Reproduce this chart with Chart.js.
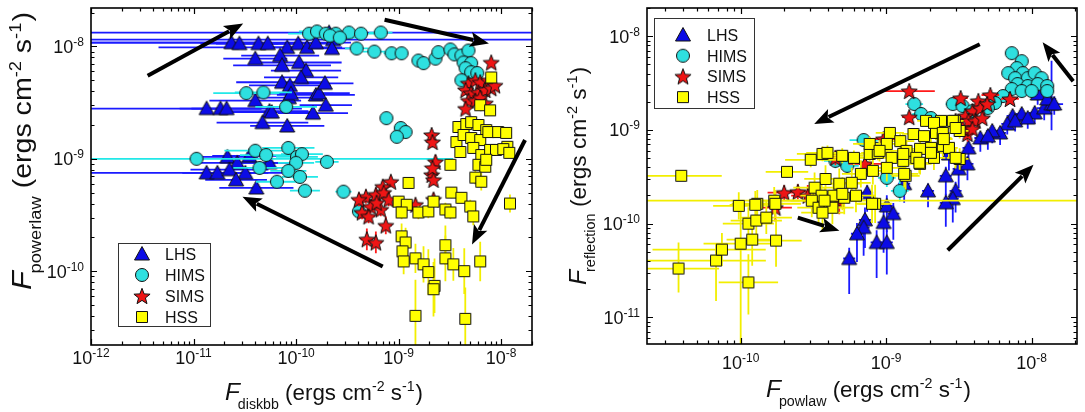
<!DOCTYPE html>
<html>
<head>
<meta charset="utf-8">
<script src="https://cdn.jsdelivr.net/npm/chart.js@4.4.1/dist/chart.umd.min.js"></script>
<style>
  html, body { margin: 0; padding: 0; background: #fff; }
  #wrap { position: relative; width: 1085px; height: 412px; overflow: hidden; }
  .panel { position: absolute; top: 0; width: 540px; height: 412px; }
</style>
</head>
<body>
<div id="wrap">
  <div class="panel" style="left:0"><canvas id="left"></canvas></div>
  <div class="panel" style="left:545px"><canvas id="right"></canvas></div>
</div>
<script>
// series names (legend order) and colours
const states = ["LHS", "HIMS", "SIMS", "HSS"];

// tick label exponents (10^n)
const p1XDecades = [-12, -11, -10, -9, -8];
const p1YDecades = [-10, -9, -8];
const p2XDecades = [-10, -9, -8];
const p2YDecades = [-11, -10, -9, -8];

// axis titles: [symbol, subscript]
const p1XTitle = ["F", "diskbb"];
const p1YTitle = ["F", "powerlaw"];
const p2XTitle = ["F", "powlaw"];
const p2YTitle = ["F", "reflection"];
const unitText = ["(ergs cm", "-2", " s", "-1", ")"];

// ---- left panel: F_diskbb vs F_powerlaw ----
// rows: [x, y, xErrFactor, yErrFactor]  (factor or [down, up])
const p1LHS = [
  [2.34e-11, 1.08e-8, [300, 2], 1.1], [2.8e-11, 1.06e-8, 2.4, 1.1], [4.3e-11, 1.06e-8, 2.6, 1.1],
  [5.3e-11, 1.06e-8, 2.2, 1.12], [8.2e-11, 9.8e-9, [18, 1.5], 1.1], [1.05e-10, 1.06e-8, 2.0, 1.1],
  [1.28e-10, 9.8e-9, 2.2, 1.1], [1.56e-10, 1.08e-8, [500, 2.2], 1.1], [2.1e-10, 1.33e-8, 1e4, 1.08],
  [2.3e-10, 1.15e-8, 1e4, 1.08], [4.0e-11, 7.8e-9, 2.05, 1.1], [7.0e-11, 8.3e-9, 2.4, 1.1],
  [7.3e-11, 6.8e-9, 3.0, 1.1], [1.07e-10, 7.2e-9, 2.6, 1.1], [1.25e-10, 6.1e-9, 2.2, 1.1],
  [1.12e-10, 5.3e-9, 2.3, 1.1], [7.3e-11, 4.8e-9, 2.8, 1.1], [8.7e-11, 4.5e-9, 2.5, 1.1],
  [8.5e-11, 3.5e-9, 2.2, 1.12], [8.9e-11, 3.8e-9, 2.6, 1.1], [1.56e-10, 3.7e-9, 2.4, 1.1],
  [4.0e-11, 3.3e-9, 2.8, 1.12], [1.34e-11, 2.8e-9, [200, 8.5], 1.1], [1.83e-11, 2.8e-9, 2.5, 1.1],
  [2.1e-11, 2.8e-9, 2.2, 1.1], [5.5e-11, 2.66e-9, 2.4, 1.1], [5.8e-11, 2.6e-9, 2.6, 1.1],
  [4.7e-11, 2.1e-9, 2.8, 1.12], [8.2e-11, 1.96e-9, 2.3, 1.12], [1.46e-10, 2.55e-9, 2.2, 1.1],
  [1.67e-10, 3.84e-9, 2.0, 1.1], [1.95e-10, 3.0e-9, 1.8, 1.1], [1.91e-10, 4.7e-9, 1.9, 1.1],
  [2.24e-10, 9.6e-9, 1.8, 1.1], [2.14e-11, 1.04e-9, 2.0, 1.1], [3.5e-11, 1.06e-9, 2.3, 1.1],
  [2.67e-11, 9.2e-10, 2.5, 1.1], [1.34e-11, 7.5e-10, [200, 4], 1.1], [1.71e-11, 7.5e-10, 2.2, 1.1],
  [2.24e-11, 8.0e-10, 2.4, 1.1], [3.2e-11, 7.5e-10, 2.6, 1.1], [2.6e-11, 6.5e-10, 2.0, 1.1],
  [4.1e-11, 5.5e-10, 2.3, 1.12], [5.5e-11, 9.2e-10, 2.0, 1.1]
];
const p1HIMS = [
  [1.34e-10, 1.30e-8, 1.6, 1.08], [1.6e-10, 1.36e-8, 1.5, 1.08], [1.95e-10, 1.30e-8, 1.5, 1.08],
  [2.44e-10, 1.30e-8, 1.6, 1.08], [3.27e-10, 1.33e-8, 1.5, 1.08], [4.3e-10, 1.30e-8, 1.4, 1.08],
  [6.7e-10, 1.33e-8, 1.3, 1.06], [2.14e-10, 1.25e-8, 1.5, 1.08], [2.67e-10, 1.2e-8, 1.6, 1.08],
  [3.9e-10, 9.6e-9, 1.3, 1.06], [5.8e-10, 9.0e-9, 1.3, 1.06], [8.55e-10, 8.7e-9, 1.2, 1.06],
  [1.07e-9, 8.7e-9, 1.15, 1.06], [1.56e-9, 7.5e-9, 1.12, 1.05], [1.75e-9, 7.1e-9, 1.12, 1.05],
  [2.29e-9, 7.8e-9, 1.1, 1.05], [2.44e-9, 8.9e-9, 1.1, 1.05], [3.2e-9, 9.4e-9, 1.1, 1.05],
  [3.5e-9, 8.5e-9, 1.1, 1.05], [4.1e-9, 8.3e-9, 1.1, 1.05], [4.8e-9, 9.2e-9, 1.1, 1.05],
  [4.3e-9, 7.2e-9, 1.1, 1.05], [5.1e-9, 7.1e-9, 1.1, 1.05], [4.5e-9, 6.4e-9, 1.1, 1.05],
  [5.1e-9, 5.9e-9, 1.1, 1.05], [5.85e-9, 5.8e-9, 1.1, 1.05], [4.1e-9, 5.0e-9, 1.1, 1.05],
  [7.6e-10, 2.3e-9, 1.1, 1.05], [1.05e-9, 1.88e-9, 1.1, 1.05], [1.17e-9, 1.73e-9, 1.1, 1.05],
  [9.6e-10, 1.57e-9, 1.1, 1.05], [2.0e-10, 9.4e-10, 1.3, 1.08], [2.9e-10, 5.1e-10, 1.2, 1.1],
  [4.1e-10, 3.4e-10, 1.15, 1.1], [3.27e-11, 3.84e-9, 2.1, 1.08], [4.8e-11, 3.9e-9, 1.9, 1.08],
  [8.0e-11, 2.9e-9, 2.0, 1.1], [1.07e-11, 1.0e-9, [1000, 318], 1.08], [4.0e-11, 1.18e-9, 2.0, 1.08],
  [5.1e-11, 1.08e-9, 1.8, 1.08], [8.4e-11, 1.25e-9, 1.8, 1.08], [1.02e-10, 1.04e-9, 1.6, 1.15],
  [1.14e-10, 1.1e-9, 1.6, 1.15], [1.0e-10, 9.2e-10, 1.5, 1.1], [8.4e-11, 7.8e-10, 1.5, 1.1],
  [4.4e-11, 8.3e-10, 1.8, 1.08], [6.5e-11, 6.25e-10, 1.6, 1.08], [1.09e-10, 6.9e-10, 1.5, 1.12],
  [1.22e-10, 5.2e-10, 1.4, 1.12]
];
const p1SIMS = [
  [8.0e-9, 7.2e-9, 1.12, 1.1], [4.8e-9, 4.7e-9, 1.12, 1.1], [5.6e-9, 5.0e-9, 1.12, 1.1],
  [6.25e-9, 4.8e-9, 1.12, 1.1], [7.5e-9, 5.0e-9, 1.12, 1.1], [4.5e-9, 4.1e-9, 1.12, 1.1],
  [5.1e-9, 3.84e-9, 1.12, 1.1], [6.0e-9, 3.9e-9, 1.12, 1.1], [7.0e-9, 4.1e-9, 1.12, 1.1],
  [8.0e-9, 4.25e-9, 1.12, 1.1], [4.8e-9, 3.3e-9, 1.12, 1.1], [5.6e-9, 3.3e-9, 1.12, 1.1],
  [7.0e-9, 3.13e-9, 1.12, 1.1], [4.5e-9, 2.8e-9, 1.12, 1.1], [6.25e-9, 3.5e-9, 1.12, 1.1],
  [8.7e-9, 4.5e-9, 1.12, 1.1], [2.1e-9, 1.63e-9, 1.1, 1.12], [2.14e-9, 1.41e-9, 1.1, 1.12],
  [2.29e-9, 9.4e-10, 1.1, 1.15], [2.1e-9, 7.2e-10, 1.1, 1.12], [2.19e-9, 6.5e-10, 1.1, 1.12],
  [2.14e-9, 8.3e-10, 1.1, 1.12], [8.4e-10, 6.25e-10, 1.15, 1.12], [7.0e-10, 5.65e-10, 1.15, 1.12],
  [4.8e-10, 4.6e-10, 1.15, 1.15], [6.0e-10, 4.8e-10, 1.15, 1.15], [7.15e-10, 5.0e-10, 1.15, 1.15],
  [8.0e-10, 4.34e-10, 1.15, 1.15], [5.35e-10, 3.76e-10, 1.15, 1.15], [6.7e-10, 3.54e-10, 1.15, 1.15],
  [4.4e-10, 3.33e-10, 1.15, 1.15], [5.1e-10, 3.07e-10, 1.15, 1.15], [7.5e-10, 2.55e-10, 1.15, 1.2],
  [4.9e-10, 1.92e-10, 1.15, 1.25], [6.0e-10, 1.8e-10, 1.15, 1.25], [1.46e-9, 3.9e-10, 1.12, 1.12],
  [2.19e-9, 4.34e-10, 1.1, 1.15], [4.1e-10, 4.34e-10, 1.15, 1.15], [6.1e-10, 4.07e-10, 1.15, 1.15]
];
const p1HSS = [
  [8.0e-9, 5.3e-9, 1.1, 1.1], [6.25e-9, 3.0e-9, 1.1, 1.1], [7.8e-9, 2.7e-9, 1.1, 1.1],
  [3.83e-9, 1.92e-9, 1.08, 1.1], [4.57e-9, 2.04e-9, 1.08, 1.1], [5.1e-9, 2.12e-9, 1.08, 1.1],
  [6.0e-9, 2.0e-9, 1.08, 1.1], [7.15e-9, 1.8e-9, 1.08, 1.1], [3.66e-9, 1.41e-9, 1.08, 1.1],
  [4.3e-9, 1.63e-9, 1.08, 1.1], [5.1e-9, 1.53e-9, 1.08, 1.1], [6.25e-9, 1.47e-9, 1.08, 1.1],
  [7.5e-9, 1.73e-9, 1.08, 1.1], [9.35e-9, 1.73e-9, 1.08, 1.1], [1.12e-8, 1.7e-9, 1.08, 1.1],
  [1.15e-8, 1.28e-9, 1.08, 1.1], [4.0e-9, 1.15e-9, 1.08, 1.1], [5.35e-9, 1.25e-9, 1.08, 1.1],
  [6.4e-9, 1.08e-9, 1.08, 1.1], [7.8e-9, 1.2e-9, 1.08, 1.1], [8.9e-9, 1.2e-9, 1.08, 1.1],
  [1.05e-8, 1.22e-9, 1.08, 1.1], [1.2e-8, 1.13e-9, 1.08, 1.1], [6.0e-9, 8.85e-10, 1.08, 1.12],
  [7.0e-9, 8.5e-10, 1.08, 1.12], [7.15e-9, 9.8e-10, 1.08, 1.12], [3.2e-9, 8.85e-10, 1.08, 1.12],
  [5.6e-9, 6.8e-10, 1.08, 1.15], [6.4e-9, 6.25e-10, 1.08, 1.2], [1.25e-9, 6.1e-10, 1.08, 1.12],
  [1.0e-9, 4.16e-10, 1.1, 1.12], [1.2e-9, 3.9e-10, 1.1, 1.12], [1.07e-9, 3.33e-10, 1.1, 1.15],
  [1.56e-9, 3.33e-10, 1.1, 1.15], [1.95e-9, 3.4e-10, 1.1, 1.15], [2.19e-9, 4.16e-10, 1.1, 1.12],
  [2.86e-9, 3.54e-10, 1.1, 1.15], [3.2e-9, 3.33e-10, 1.1, 1.15], [3.27e-9, 5.0e-10, 1.1, 1.12],
  [4.1e-9, 4.5e-10, 1.1, 1.12], [5.0e-9, 3.76e-10, 1.1, 1.15], [5.35e-9, 3.07e-10, 1.1, 1.2],
  [1.22e-8, 4.0e-10, 1.08, 1.2], [1.07e-9, 2.04e-10, 1.1, 1.3], [1.17e-9, 1.8e-10, 1.1, 1.35],
  [1.09e-9, 1.5e-10, 1.1, 1.35], [1.12e-9, 1.22e-10, 1.1, 1.3], [1.46e-9, 1.3e-10, 1.1, 1.35],
  [1.75e-9, 1.15e-10, 1.1, 1.45], [1.95e-9, 9.8e-11, 1.1, 1.6], [2.24e-9, 7.4e-11, 1.1, 1.75],
  [2.19e-9, 6.9e-11, 1.1, 1.75], [2.86e-9, 1.7e-10, 1.1, 1.5], [2.86e-9, 1.3e-10, 1.1, 1.6],
  [3.42e-9, 1.15e-10, 1.1, 1.4], [4.37e-9, 1.0e-10, 1.1, 1.6], [6.25e-9, 1.22e-10, 1.1, 1.5],
  [1.46e-9, 4.0e-11, 1.1, [3, 2.1]], [4.47e-9, 3.76e-11, 1.1, [3, 1.9]]
];
// arrows: [xStart, yStart, xEnd, yEnd]
const p1Arrows = [
  [3.57e-12, 5.5e-9, 3.05e-11, 1.6e-8],
  [7.3e-10, 1.73e-8, 7.6e-9, 1.06e-8],
  [1.71e-8, 1.47e-9, 5.2e-9, 1.73e-10],
  [7.0e-10, 1.1e-10, 3.0e-11, 4.6e-10]
];

// ---- right panel: F_powlaw vs F_reflection ----
const p2LHS = [
  [7.4e-9, 1.41e-9, 1.1, [1.3, 1.15]], [8.55e-9, 1.48e-9, 1.1, [1.3, 1.15]], [1.05e-8, 1.52e-9, 1.1, [1.3, 1.15]],
  [1.22e-8, 1.71e-9, 1.12, [1.35, 1.15]], [1.37e-8, 1.89e-9, 1.12, [1.9, 2.9]], [6.8e-9, 1.16e-9, 1.1, [1.3, 1.15]],
  [6.07e-9, 9.3e-10, 1.1, [1.35, 1.15]], [5.36e-9, 9.75e-10, 1.1, [1.35, 1.15]], [4.44e-9, 8.2e-10, 1.1, [1.4, 1.15]],
  [5.0e-9, 8.6e-10, 1.1, [1.4, 1.15]], [7.7e-9, 1.25e-9, 1.1, [1.3, 1.15]], [9.4e-9, 1.34e-9, 1.1, [1.3, 1.15]],
  [1.1e-8, 2.42e-9, 1.15, [1.3, 1.2]], [1.28e-8, 2.14e-9, 1.15, [1.3, 1.2]], [1.43e-8, 1.89e-9, 1.15, [1.3, 1.2]],
  [2.7e-9, 5.55e-10, 1.1, [1.5, 1.2]], [3.15e-9, 3.85e-10, 1.1, [1.6, 1.2]], [3.62e-9, 4.35e-10, 1.1, [1.5, 1.2]],
  [2.57e-9, 3.24e-10, 1.1, [1.6, 1.25]], [1.94e-9, 2.24e-10, 1.1, [1.5, 1.2]], [1.33e-9, 2.67e-10, 1.1, [1.6, 1.2]],
  [7.4e-10, 2.14e-10, 1.1, [1.6, 1.2]], [3.68e-9, 6.44e-10, 1.1, [1.4, 1.2]], [3.0e-9, 2.24e-10, 1.1, [1.7, 1.25]],
  [2.87e-9, 1.85e-10, 1.1, [1.8, 1.25]], [2.57e-9, 1.67e-10, 1.1, [1.8, 1.25]], [1.01e-9, 1.55e-10, 1.1, [1.9, 1.3]],
  [1.12e-9, 1.28e-10, 1.1, [1.9, 1.3]], [9.6e-10, 1.03e-10, 1.1, [2.1, 1.35]], [7.15e-10, 1.1e-10, 1.1, [2.0, 1.35]],
  [7.0e-10, 9.1e-11, 1.1, [2.0, 1.3]], [6.3e-10, 7.8e-11, 1.1, [2.0, 1.3]], [8.6e-10, 6.3e-11, 1.1, [2.4, 1.35]],
  [1.01e-9, 6.3e-11, 1.1, [2.2, 1.35]], [5.57e-10, 4.25e-11, 1.1, [2.4, 1.3]]
];
const p2HIMS = [
  [7.3e-9, 6.6e-9, 1.1, 1.1], [8.55e-9, 5.42e-9, 1.1, 1.1], [7.9e-9, 4.57e-9, 1.1, 1.1],
  [8.7e-9, 4.04e-9, 1.1, 1.1], [6.9e-9, 4.04e-9, 1.1, 1.1], [7.7e-9, 3.57e-9, 1.1, 1.1],
  [9.4e-9, 3.57e-9, 1.1, 1.1], [1.05e-8, 4.04e-9, 1.1, 1.1], [1.17e-8, 3.57e-9, 1.1, 1.15],
  [8.0e-9, 3.09e-9, 1.1, 1.1], [9.4e-9, 2.94e-9, 1.1, 1.1], [1.1e-8, 3.09e-9, 1.1, 1.15],
  [1.28e-8, 2.94e-9, 1.1, 1.15], [7.3e-9, 2.73e-9, 1.1, 1.1], [8.55e-9, 2.6e-9, 1.1, 1.1],
  [1.0e-8, 2.6e-9, 1.1, 1.1], [1.28e-8, 2.6e-9, 1.1, 1.15], [6.35e-9, 2.3e-9, 1.1, 1.1],
  [5.6e-9, 1.94e-9, 1.1, 1.1], [2.87e-9, 1.89e-9, 1.12, 1.1], [1.56e-9, 1.89e-9, 1.15, 1.12],
  [1.74e-9, 1.48e-9, 1.15, 1.12], [2.03e-9, 1.34e-9, 1.12, 1.12], [3.35e-9, 1.8e-9, 1.1, 1.1],
  [3.92e-9, 1.59e-9, 1.1, 1.1], [5.0e-9, 1.71e-9, 1.1, 1.1], [7.0e-10, 7.8e-10, 1.25, 1.15],
  [1.24e-9, 2.24e-10, 1.15, 1.3], [1.01e-9, 3.08e-10, 1.15, 1.25], [5.4e-10, 4.14e-10, 1.2, 1.2],
  [4.48e-10, 4.68e-10, 1.2, 1.2], [8.6e-10, 6.28e-10, 1.2, 1.2]
];
const p2SIMS = [
  [1.44e-9, 2.6e-9, 1.5, 1.12], [1.44e-9, 1.37e-9, 1.12, 1.15], [3.25e-9, 2.19e-9, 1.12, 1.1],
  [5.2e-9, 2.36e-9, 1.15, 1.1], [4.3e-9, 2.04e-9, 1.1, 1.1], [3.92e-9, 1.59e-9, 1.1, 1.1],
  [3.5e-9, 1.41e-9, 1.1, 1.1], [4.44e-9, 1.71e-9, 1.1, 1.1], [4.95e-9, 1.89e-9, 1.1, 1.1],
  [7.1e-9, 2.14e-9, 1.15, 1.1], [3.68e-9, 1.25e-9, 1.1, 1.12], [4.1e-9, 1.25e-9, 1.1, 1.12],
  [4.58e-9, 1.34e-9, 1.1, 1.12], [3.62e-9, 9.06e-10, 1.1, 1.2], [9.6e-10, 8.0e-10, 1.2, 1.12],
  [3.0e-9, 1.25e-9, 1.1, 1.12], [3.35e-9, 1.05e-9, 1.1, 1.15], [3.92e-9, 1.03e-9, 1.1, 1.15],
  [7.15e-10, 4.35e-10, 1.3, 1.2], [1.99e-10, 2.14e-10, 1.3, 1.2], [2.47e-10, 2.19e-10, 1.3, 1.2],
  [2.89e-10, 1.99e-10, 1.3, 1.3], [1.73e-10, 1.48e-10, 1.3, 1.4], [4.48e-10, 5.04e-10, 1.3, 1.2],
  [4.76e-10, 1.76e-10, 1.2, 1.4]
];
const p2HSS = [
  [3.9e-11, 3.24e-10, [3, 1.9], 1.12], [2.08e-10, 3.57e-10, 1.4, 1.15], [3.03e-10, 4.8e-10, 1.5, 1.2],
  [3.65e-10, 5.55e-10, 1.5, 1.2], [3.95e-10, 5.7e-10, 1.4, 1.2], [4.99e-10, 5.3e-10, 1.4, 1.2],
  [6.0e-10, 5.04e-10, 1.4, 1.2], [7.7e-10, 5.55e-10, 1.3, 1.2], [8.75e-10, 5.7e-10, 1.3, 1.2],
  [1.06e-9, 9.3e-10, 1.25, 1.15], [1.25e-9, 7.6e-10, 1.25, 1.2], [1.54e-9, 9.06e-10, 1.2, 1.15],
  [1.82e-9, 8.6e-10, 1.2, 1.15], [2.2e-9, 9.3e-10, 1.2, 1.15], [2.38e-9, 1.25e-9, 1.15, 1.15],
  [2.96e-9, 1.25e-9, 1.15, 1.15], [3.2e-9, 9.75e-10, 1.15, 1.2], [2.45e-9, 6.76e-10, 1.2, 1.3],
  [2.03e-9, 6.44e-10, 1.2, 1.3], [1.71e-9, 6.28e-10, 1.2, 1.3], [1.38e-9, 5.98e-10, 1.25, 1.3],
  [1.31e-9, 4.68e-10, 1.25, 1.35], [1.09e-9, 5.04e-10, 1.25, 1.3], [1.01e-9, 3.94e-10, 1.3, 1.4],
  [8.1e-10, 3.66e-10, 1.3, 1.4], [6.7e-10, 3.4e-10, 1.35, 1.4], [5.8e-10, 2.73e-10, 1.35, 1.45],
  [4.76e-10, 2.67e-10, 1.4, 1.45], [3.83e-10, 3.0e-10, 1.4, 1.4], [3.22e-10, 2.42e-10, 1.4, 1.45],
  [3.6e-10, 1.99e-10, 1.4, 1.5], [3.08e-10, 1.76e-10, 1.4, 1.5], [4.34e-10, 1.99e-10, 1.4, 1.5],
  [5.15e-10, 1.89e-10, 1.35, 1.5], [6.2e-10, 1.99e-10, 1.35, 1.5], [8.4e-10, 1.63e-10, 1.3, 1.6],
  [1.71e-9, 4.35e-10, 1.2, 1.3], [3.2e-9, 4.9e-10, 1.15, 1.3], [1.36e-9, 3.24e-10, 1.25, 1.4],
  [3.43e-10, 1.48e-10, 1.4, 1.5], [4.27e-10, 1.48e-10, 1.4, 1.5], [1.01e-9, 7.1e-10, 1.25, 1.2],
  [7.7e-10, 7.1e-10, 1.3, 1.2], [2.45e-9, 8.2e-10, 1.15, 1.2], [2.7e-9, 6.44e-10, 1.15, 1.3],
  [2.13e-9, 5.04e-10, 1.2, 1.35], [9.7e-11, 1.55e-10, 1.5, 1.4], [1.3e-10, 1.63e-10, 1.5, 1.4],
  [1.7e-10, 1.76e-10, 1.5, 1.4], [1.13e-10, 1.0e-10, 1.5, 1.5], [1.28e-10, 1.08e-10, 1.5, 1.5],
  [1.5e-10, 1.16e-10, 1.5, 1.5], [3.74e-11, 3.32e-11, [3, 1.9], [1.8, 1.9]], [6.77e-11, 4.04e-11, [3, 2.2], [2.7, 1.5]],
  [7.43e-11, 5.29e-11, [3, 2.0], 1.5], [1.0e-10, 6.12e-11, 1.8, [12, 2.2]], [1.13e-10, 2.36e-11, 1.6, [2.2, 2.0]],
  [1.2e-10, 6.76e-11, 1.5, [1.9, 1.6]], [1.75e-10, 6.6e-11, 1.5, [1.9, 1.7]], [1.26e-10, 1.59e-10, 1.5, 1.4],
  [1.73e-10, 1.63e-10, 1.5, 1.4], [3.65e-10, 1.31e-10, 1.4, 1.6], [1.88e-9, 1.25e-9, 1.15, 1.15],
  [2.13e-9, 1.19e-9, 1.15, 1.15], [2.45e-9, 9.3e-10, 1.15, 1.2], [2.87e-9, 1.25e-9, 1.15, 1.15],
  [3.0e-9, 1.05e-9, 1.15, 1.2], [2.49e-9, 8.0e-10, 1.15, 1.2], [2.03e-9, 5.7e-10, 1.2, 1.3],
  [1.61e-9, 5.04e-10, 1.2, 1.3], [1.31e-9, 5.55e-10, 1.2, 1.3], [9.0e-10, 5.98e-10, 1.25, 1.3],
  [1.33e-9, 3.4e-10, 1.25, 1.4], [1.69e-9, 4.46e-10, 1.2, 1.3], [3.0e-9, 5.04e-10, 1.15, 1.3],
  [3.77e-10, 1.76e-10, 1e4, 1.4], [5.0e-10, 2.08e-10, 1.3, 1.5], [8.0e-10, 1.63e-10, 1.3, 1.6]
];
const p2Arrows = [
  [4.4e-9, 8.2e-9, 3.2e-10, 1.16e-9],
  [1.93e-8, 3.3e-9, 1.19e-8, 8.6e-9],
  [2.65e-9, 5.2e-11, 1.03e-8, 4.25e-10],
  [2.47e-10, 1.16e-10, 4.77e-10, 8.4e-11]
];

// ---------------------------------------------------------------
const FONT = '"Liberation Sans", Arial, sans-serif';
const fills = { LHS: "#0c0ce6", HIMS: "#2ee0e0", SIMS: "#ee1515", HSS: "#ffff00" };
const errColors = { LHS: "#1a1aff", HIMS: "#22e8e8", SIMS: "#ff1a1a", HSS: "#f2ee00" };

function marker(kind, fill) {
  const c = document.createElement("canvas");
  c.width = c.height = 18;
  const g = c.getContext("2d");
  g.fillStyle = fill;
  g.strokeStyle = "#111";
  g.lineWidth = 1;
  g.beginPath();
  if (kind === "LHS") {
    g.moveTo(9, 1.5); g.lineTo(16.5, 15); g.lineTo(1.5, 15); g.closePath();
  } else if (kind === "HIMS") {
    g.arc(9, 9, 6.5, 0, Math.PI * 2);
  } else if (kind === "SIMS") {
    for (let i = 0; i < 10; i++) {
      const r = i % 2 ? 3.6 : 8.5;
      const a = -Math.PI / 2 + i * Math.PI / 5;
      g.lineTo(9 + r * Math.cos(a), 9.8 + r * Math.sin(a));
    }
    g.closePath();
  } else {
    g.rect(3.5, 3.5, 11, 11);
  }
  g.fill();
  g.stroke();
  return c;
}
const markers = {};
states.forEach(s => markers[s] = marker(s, fills[s]));

function asPair(f) { return Array.isArray(f) ? f : [f, f]; }

function makeDatasets(rowsList) {
  return rowsList.map((rows, i) => ({
    label: states[i],
    data: rows.map(r => ({ x: r[0], y: r[1] })),
    errors: rows.map(r => [r[2], r[3]]),
    errColor: errColors[states[i]],
    pointStyle: markers[states[i]],
    pointRadius: 7,
    order: rowsList.length - 1 - i
  }));
}

// error bars drawn under each dataset's own markers
const errorBars = {
  id: "errorBars",
  beforeDatasetDraw(chart, args) {
    const ds = chart.data.datasets[args.index];
    if (!ds.errors) return;
    const { ctx, chartArea: a } = chart;
    const xs = chart.scales.x, ys = chart.scales.y;
    ctx.save();
    ctx.beginPath();
    ctx.rect(a.left, a.top, a.right - a.left, a.bottom - a.top);
    ctx.clip();
    ctx.strokeStyle = ds.errColor;
    ctx.lineWidth = 1.8;
    ds.data.forEach((p, i) => {
      const [xl, xh] = asPair(ds.errors[i][0]);
      const [yl, yh] = asPair(ds.errors[i][1]);
      const px = xs.getPixelForValue(p.x), py = ys.getPixelForValue(p.y);
      ctx.beginPath();
      ctx.moveTo(xs.getPixelForValue(p.x / xl), py);
      ctx.lineTo(xs.getPixelForValue(p.x * xh), py);
      ctx.moveTo(px, ys.getPixelForValue(p.y / yl));
      ctx.lineTo(px, ys.getPixelForValue(p.y * yh));
      ctx.stroke();
    });
    ctx.restore();
  }
};

function logTicks(scale) {
  const out = [];
  const e0 = Math.floor(Math.log10(scale.min)), e1 = Math.ceil(Math.log10(scale.max));
  for (let e = e0; e <= e1; e++) {
    for (let k = 1; k <= 9; k++) {
      const v = k * Math.pow(10, e);
      if (v >= scale.min * 0.999 && v <= scale.max * 1.001) out.push({ v, major: k === 1 });
    }
  }
  return out;
}

function powLabel(ctx, exp, x, y, align) {
  ctx.font = "18px " + FONT;
  const w1 = ctx.measureText("10").width;
  ctx.font = "12px " + FONT;
  const w2 = ctx.measureText(String(exp)).width;
  const x0 = align === "center" ? x - (w1 + w2) / 2 : x - w1 - w2;
  ctx.font = "18px " + FONT;
  ctx.fillText("10", x0, y);
  ctx.font = "12px " + FONT;
  ctx.fillText(String(exp), x0 + w1, y - 7);
}

function drawTitle(ctx, title, x, y, angle, span, size) {
  const k = size / 22;
  const parts = [
    { t: title[0], font: "italic " + Math.round(24 * k) + "px " + FONT, dy: 0, dx: 0 },
    { t: title[1], font: Math.round(14 * k) + "px " + FONT, dy: 9 * k, dx: -2 },
    { t: " " + unitText[0], font: size + "px " + FONT, dy: 0, dx: 0 },
    { t: unitText[1], font: Math.round(14 * k) + "px " + FONT, dy: -9 * k, dx: 0 },
    { t: unitText[2], font: size + "px " + FONT, dy: 0, dx: 0 },
    { t: unitText[3], font: Math.round(14 * k) + "px " + FONT, dy: -9 * k, dx: 0 },
    { t: unitText[4], font: size + "px " + FONT, dy: 0, dx: 1 }
  ];
  let w = 0;
  parts.forEach(p => { ctx.font = p.font; p.w = ctx.measureText(p.t).width; w += p.w + p.dx; });
  ctx.save();
  ctx.translate(x, y);
  ctx.rotate(angle);
  ctx.scale(span / w, 1);
  let cx = 0;
  parts.forEach(p => { ctx.font = p.font; cx += p.dx; ctx.fillText(p.t, cx, p.dy); cx += p.w; });
  ctx.restore();
}

function drawArrow(ctx, x0, y0, x1, y1) {
  const ang = Math.atan2(y1 - y0, x1 - x0);
  const L = 19, W = 7.5;
  const c = Math.cos(ang), s = Math.sin(ang);
  const bx = x1 - L * c, by = y1 - L * s;
  ctx.lineWidth = 4;
  ctx.lineCap = "butt";
  ctx.beginPath();
  ctx.moveTo(x0, y0);
  ctx.lineTo(bx + 3 * c, by + 3 * s);
  ctx.stroke();
  ctx.beginPath();
  ctx.moveTo(x1, y1);
  ctx.lineTo(bx - W * s, by + W * c);
  ctx.lineTo(bx + 4 * c, by + 4 * s);
  ctx.lineTo(bx + W * s, by - W * c);
  ctx.closePath();
  ctx.fill();
}

// frame, inward ticks, tick labels, titles, legend and arrows
const decor = {
  id: "decor",
  afterDatasetsDraw(chart, args, o) {
    const { ctx, chartArea: a } = chart;
    const xs = chart.scales.x, ys = chart.scales.y;
    ctx.save();
    ctx.fillStyle = "#000";
    ctx.strokeStyle = "#000";
    o.arrows.forEach(r => drawArrow(ctx,
      xs.getPixelForValue(r[0]), ys.getPixelForValue(r[1]),
      xs.getPixelForValue(r[2]), ys.getPixelForValue(r[3])));

    ctx.lineWidth = 1.6;
    ctx.strokeRect(a.left, a.top, a.right - a.left, a.bottom - a.top);
    ctx.lineWidth = 1.2;
    ctx.beginPath();
    logTicks(xs).forEach(t => {
      const p = Math.round(xs.getPixelForValue(t.v)) + 0.5, L = t.major ? 6 : 3.5;
      ctx.moveTo(p, a.bottom); ctx.lineTo(p, a.bottom - L);
      ctx.moveTo(p, a.top); ctx.lineTo(p, a.top + L);
    });
    logTicks(ys).forEach(t => {
      const p = Math.round(ys.getPixelForValue(t.v)) + 0.5, L = t.major ? 6 : 3.5;
      ctx.moveTo(a.left, p); ctx.lineTo(a.left + L, p);
      ctx.moveTo(a.right, p); ctx.lineTo(a.right - L, p);
    });
    ctx.stroke();

    ctx.fillStyle = "#111";
    o.xDecades.forEach(e => powLabel(ctx, e, xs.getPixelForValue(Math.pow(10, e)), o.xLabelY, "center"));
    o.yDecades.forEach(e => powLabel(ctx, e, a.left - 7, ys.getPixelForValue(Math.pow(10, e)) + 6.5, "right"));

    drawTitle(ctx, o.xTitle, o.xTitlePos[0], o.xTitlePos[1], 0, o.xTitlePos[2], o.xTitlePos[3]);
    drawTitle(ctx, o.yTitle, o.yTitlePos[0], o.yTitlePos[1], -Math.PI / 2, o.yTitlePos[2], o.yTitlePos[3]);

    const lg = o.legend;
    ctx.fillStyle = "#fff";
    ctx.fillRect(lg.box[0], lg.box[1], lg.box[2], lg.box[3]);
    ctx.strokeStyle = "#333";
    ctx.lineWidth = 1;
    ctx.strokeRect(lg.box[0] + 0.5, lg.box[1] + 0.5, lg.box[2], lg.box[3]);
    ctx.fillStyle = "#111";
    ctx.font = "16px " + FONT;
    chart.data.datasets.forEach((ds, i) => {
      const yy = lg.y0 + i * lg.dy;
      ctx.drawImage(ds.pointStyle, lg.mx - 9, yy - 9);
      ctx.fillText(ds.label, lg.tx, yy + 6);
    });
    ctx.restore();
  }
};

function buildChart(id, rowsList, cfg) {
  return new Chart(document.getElementById(id), {
    type: "scatter",
    data: { datasets: makeDatasets(rowsList) },
    options: {
      responsive: true,
      maintainAspectRatio: false,
      animation: false,
      events: [],
      layout: { padding: cfg.padding },
      scales: {
        x: { type: "logarithmic", min: cfg.xRange[0], max: cfg.xRange[1], display: false },
        y: { type: "logarithmic", min: cfg.yRange[0], max: cfg.yRange[1], display: false }
      },
      plugins: { legend: { display: false }, tooltip: { enabled: false }, decor: cfg.decor }
    },
    plugins: [errorBars, decor]
  });
}

// --- Left chart ---
buildChart("left", [p1LHS, p1HIMS, p1SIMS, p1HSS], {
  padding: { left: 91, top: 7, right: 8, bottom: 67 },
  xRange: [1e-12, 2e-8],
  yRange: [2.2e-11, 2.2e-8],
  decor: {
    arrows: p1Arrows,
    xDecades: p1XDecades, yDecades: p1YDecades, xLabelY: 364,
    xTitle: p1XTitle, xTitlePos: [225, 400, 198, 22],
    yTitle: p1YTitle, yTitlePos: [31, 290, 278, 25],
    legend: { box: [118, 243, 92, 83], mx: 142, tx: 165, y0: 254, dy: 21 }
  }
});

// --- Right chart ---
buildChart("right", [p2LHS, p2HIMS, p2SIMS, p2HSS], {
  padding: { left: 102, top: 7, right: 2, bottom: 68 },
  xRange: [2.27e-11, 2.05e-8],
  yRange: [5.2e-12, 2e-8],
  decor: {
    arrows: p2Arrows,
    xDecades: p2XDecades, yDecades: p2YDecades, xLabelY: 369,
    xTitle: p2XTitle, xTitlePos: [221, 397, 205, 22],
    yTitle: p2YTitle, yTitlePos: [41, 285, 218, 22],
    legend: { box: [109, 18, 100, 90], mx: 138, tx: 162, y0: 35, dy: 20.7 }
  }
});
</script>
</body>
</html>
